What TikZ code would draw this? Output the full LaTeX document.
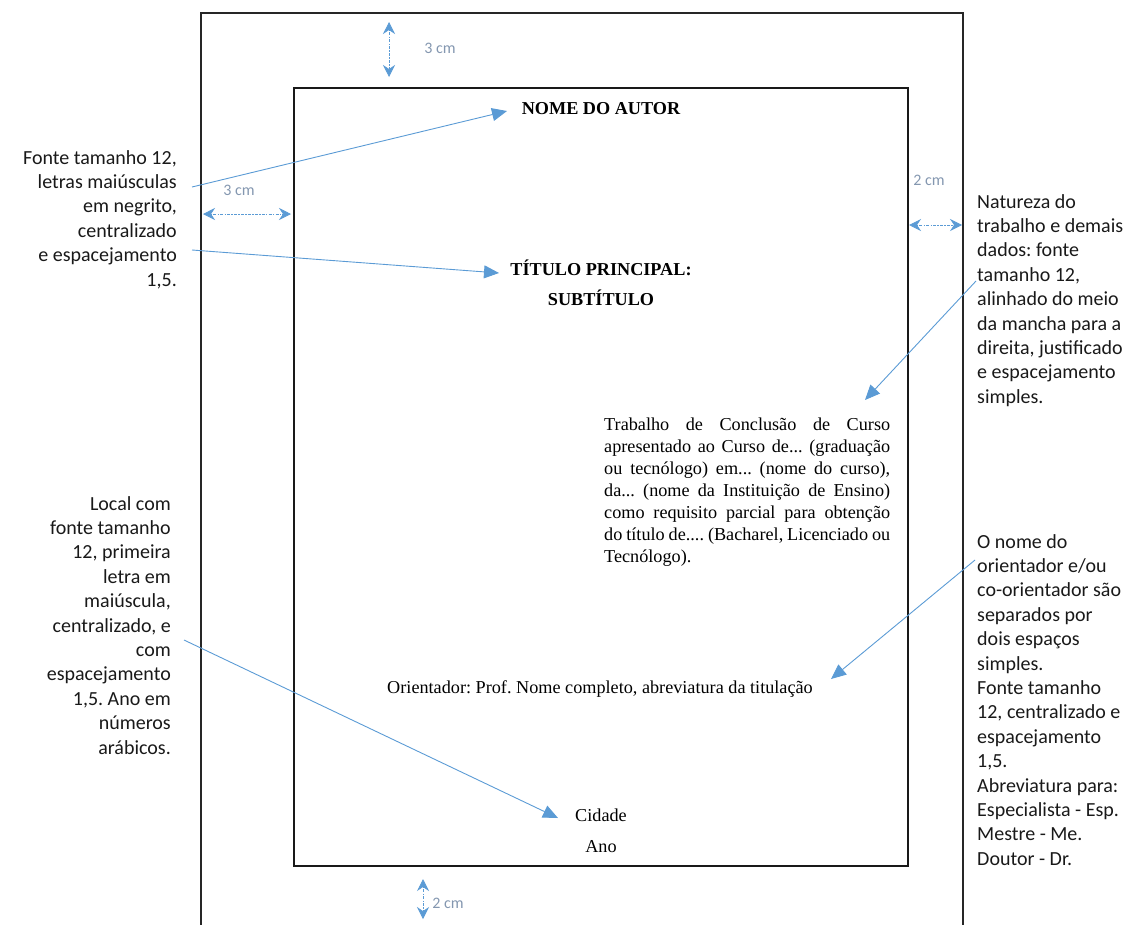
\documentclass[tikz,border=0pt]{standalone}
\usepackage{fontspec}
\setmainfont{Liberation Serif}
\newfontfamily\notefont{Carlito}
\usetikzlibrary{arrows.meta}
\definecolor{callblue}{HTML}{5B9BD5}
\definecolor{dimgray}{HTML}{8497B0}
\frenchspacing
\begin{document}
\begin{tikzpicture}[x=1pt,y=-1pt,
  note/.style={font=\notefont\fontsize{20}{24.4}\selectfont, inner sep=0pt, text=black!90},
  pagetext/.style={font=\fontsize{18.2}{22}\selectfont, inner sep=0pt},
  headtext/.style={font=\bfseries\fontsize{18.2}{22}\selectfont, inner sep=0pt},
  pointer/.style={draw=callblue, line width=0.9pt, -{Triangle[length=15pt,width=13pt]}},
  dimline/.style={draw=callblue, line width=0.7pt, dash pattern=on 1.5pt off 1.2pt on 3pt off 1.2pt,
    {Stealth[length=12pt,width=12pt,inset=4pt]}-{Stealth[length=12pt,width=12pt,inset=4pt]}},
  dimlabel/.style={font=\notefont\fontsize{16}{18}\selectfont, text=dimgray, inner sep=0pt}]
\useasboundingbox (0,0) rectangle (1131,924);

% outer sheet, running past the lower edge
\draw[line width=1.6pt, black!85] (201,926) -- (201,13) -- (963,13) -- (963,926);
% printed area
\draw[line width=1.3pt, black!90] (294,88) rectangle (908,866);

% margin measures
\draw[dimline] (389,22) -- (389,77);
\node[dimlabel] (mtop) at (440,48) {3 cm};
\draw[dimline] (203,214) -- (291,214);
\node[dimlabel] (mleft) at (239,190) {3 cm};
\draw[dimline] (909,225) -- (962,225);
\node[dimlabel] (mright) at (929,180) {2 cm};
\draw[dimline] (423,879) -- (423,919);
\node[dimlabel] (mbottom) at (448,903) {2 cm};

% page contents
\node[headtext] (autor) at (601,109) {NOME DO AUTOR};
\node[headtext] (titulo) at (601,268) {TÍTULO PRINCIPAL:};
\node[headtext] (subtitulo) at (601,298) {SUBTÍTULO};
\node[pagetext, anchor=north west, align=left] (natureza) at (604,418) {%
  \makebox[286pt][s]{Trabalho de Conclusão de Curso}\\
  \makebox[286pt][s]{apresentado ao Curso de... (graduação}\\
  \makebox[286pt][s]{ou tecnólogo) em... (nome do curso),}\\
  \makebox[286pt][s]{da... (nome da Instituição de Ensino)}\\
  \makebox[286pt][s]{como requisito parcial para obtenção}\\
  \makebox[286pt][s]{do título de.... (Bacharel, Licenciado ou}\\
  Tecnólogo).};
\node[pagetext] (orientador) at (600,689) {Orientador: Prof. Nome completo, abreviatura da titulação};
\node[pagetext] (cidade) at (601,815) {Cidade};
\node[pagetext] (ano) at (601,847) {Ano};

% side notes
\node[note, anchor=north east, align=right] (notaautor) at (177,150) {%
  Fonte tamanho 12,\\ letras maiúsculas\\ em negrito,\\ centralizado\\ e espacejamento\\ 1,5.};
\node[note, anchor=north east, align=right] (notalocal) at (171,496) {%
  Local com\\ fonte tamanho\\ 12, primeira\\ letra em\\ maiúscula,\\ centralizado, e\\ com\\ espacejamento\\ 1,5. Ano em\\ números\\ arábicos.};
\node[note, anchor=north west, align=left] (notanatureza) at (977,194) {%
  Natureza do\\ trabalho e demais\\ dados: fonte\\ tamanho 12,\\ alinhado do meio\\ da mancha para a\\ direita, justificado\\ e espacejamento\\ simples.};
\node[note, anchor=north west, align=left] (notaorientador) at (977,534) {%
  O nome do\\ orientador e/ou\\ co-orientador são\\ separados por\\ dois espaços\\ simples.\\ Fonte tamanho\\ 12, centralizado e\\ espacejamento\\ 1,5.\\ Abreviatura para:\\ Especialista - Esp.\\ Mestre - Me.\\ Doutor - Dr.};

% pointer ends
\coordinate (p1s) at (192,187);
\coordinate (p1e) at (507,111);
\coordinate (p2s) at (192,250);
\coordinate (p2e) at (499,273);
\coordinate (p3s) at (976,281);
\coordinate (p3e) at (865,400);
\coordinate (p4s) at (975,560);
\coordinate (p4e) at (831,679);
\coordinate (p5s) at (184,640);
\coordinate (p5e) at (558,818);

\draw[pointer] (p1s) -- (p1e);
\draw[pointer] (p2s) -- (p2e);
\draw[pointer] (p3s) -- (p3e);
\draw[pointer] (p4s) -- (p4e);
\draw[pointer] (p5s) -- (p5e);
\end{tikzpicture}
\end{document}
